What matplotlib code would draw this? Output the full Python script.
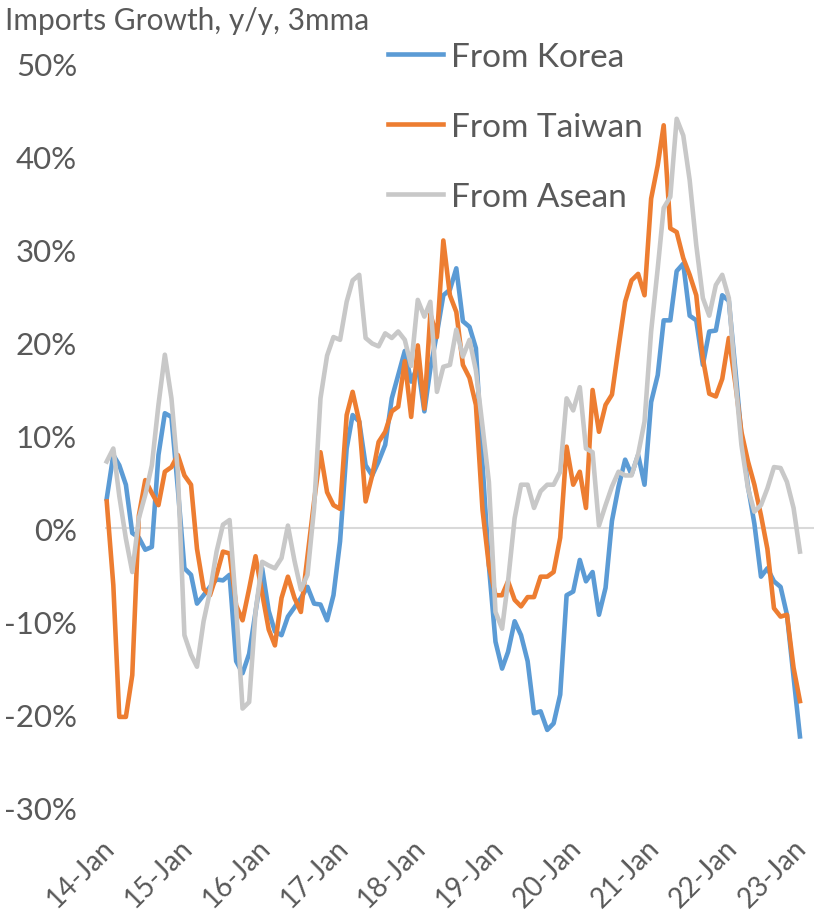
import pandas as pd
import matplotlib.pyplot as plt
from matplotlib.transforms import ScaledTranslation

# monthly y/y growth, 3mma, Jan 2014 .. Dec 2022 (%)
korea = [
    3.2, 7.9, 6.8, 4.7, -0.5, -1.0, -2.3, -2.0, 7.9, 12.4, 12.0, 4.3,
    -4.3, -5.0, -8.1, -7.2, -6.3, -5.5, -5.6, -5.0, -14.3, -15.6, -13.5, -9.0,
    -4.3, -8.9, -11.1, -11.5, -9.5, -8.5, -7.5, -6.3, -8.1, -8.2, -9.9, -7.2,
    -1.4, 8.6, 12.2, 11.5, 6.8, 5.7, 7.2, 9.0, 14.0, 16.5, 19.1, 15.8,
    17.5, 12.6, 17.2, 21.0, 25.1, 25.7, 28.0, 22.3, 21.7, 19.4, 7.0, -4.0,
    -12.2, -15.1, -13.3, -10.0, -11.5, -14.3, -19.9, -19.7, -21.7, -21.0, -17.9, -7.2,
    -6.8, -3.4, -5.7, -4.7, -9.3, -6.4, 0.8, 4.5, 7.4, 5.8, 7.9, 4.7,
    13.6, 16.5, 22.4, 22.4, 27.7, 28.5, 22.9, 22.4, 17.6, 21.2, 21.3, 25.1,
    24.5, 17.0, 10.0, 4.5, 0.5, -5.2, -4.3, -5.7, -6.3, -9.3, -16.0, -22.4,
]
taiwan = [
    2.9, -6.1, -20.3, -20.3, -15.8, 1.4, 5.2, 3.8, 2.5, 6.1, 6.6, 7.9,
    5.7, 4.7, -2.2, -6.5, -7.2, -5.0, -2.5, -2.7, -8.3, -9.9, -6.5, -3.0,
    -7.0, -10.9, -12.6, -7.5, -5.2, -7.5, -9.0, -3.0, 2.9, 8.2, 3.9, 2.5,
    2.1, 12.2, 14.7, 11.5, 2.9, 5.7, 9.3, 10.4, 12.6, 13.1, 18.0, 12.0,
    19.7, 12.9, 23.1, 20.6, 31.0, 25.1, 23.3, 17.6, 16.2, 13.3, 2.0, -4.0,
    -7.2, -7.2, -5.7, -7.7, -8.4, -7.4, -7.4, -5.2, -5.2, -4.7, -1.0, 8.8,
    4.7, 6.1, 2.2, 14.9, 10.4, 13.3, 14.4, 19.5, 24.4, 26.7, 27.4, 25.1,
    35.5, 39.1, 43.4, 32.3, 31.9, 29.1, 27.3, 25.1, 18.3, 14.5, 14.2, 16.1,
    20.5, 15.5, 10.4, 7.2, 4.7, 1.4, -2.2, -8.6, -9.5, -9.3, -15.0, -18.6,
]
asean = [
    7.2, 8.6, 3.5, -1.1, -4.7, 1.1, 3.6, 6.8, 13.3, 18.7, 14.0, 6.1,
    -11.5, -13.6, -14.9, -10.0, -6.8, -2.5, 0.4, 0.9, -8.6, -19.4, -18.7, -9.0,
    -3.6, -4.0, -4.3, -3.2, 0.3, -3.5, -6.6, -5.0, 2.2, 14.0, 18.6, 20.6,
    20.3, 24.4, 26.7, 27.3, 20.5, 19.9, 19.6, 21.0, 20.5, 21.2, 20.3, 17.5,
    24.6, 22.8, 24.4, 14.7, 17.4, 17.6, 21.4, 18.5, 20.3, 17.0, 11.0, 5.0,
    -9.0, -10.8, -5.7, 1.1, 4.7, 4.7, 2.2, 4.0, 4.7, 4.7, 6.1, 14.0,
    12.7, 15.2, 8.6, 8.2, 0.3, 2.5, 4.5, 6.1, 5.7, 5.7, 8.0, 11.5,
    21.2, 28.0, 34.5, 35.7, 44.1, 42.3, 37.5, 30.5, 24.8, 22.9, 26.2, 27.3,
    24.8, 16.0, 9.0, 4.3, 1.8, 2.5, 4.3, 6.6, 6.5, 5.0, 2.2, -2.5,
]
series_names = ['From Korea', 'From Taiwan', 'From Asean']
y_ticks = [-30, -20, -10, 0, 10, 20, 30, 40, 50]

dates = pd.date_range('2014-01-01', periods=len(korea), freq='MS')
tick_dates = pd.date_range('2014-01-01', '2023-01-01', freq='YS')

plt.rcParams['font.family'] = ['Lato', 'DejaVu Sans']
txt_color = '#595959'

fig = plt.figure(figsize=(8.15, 9.12), dpi=100)
W, H = 815, 912
x0, x1, y_top, y_bot = 104.8, 814, 65, 808
ax = fig.add_axes([x0 / W, 1 - y_bot / H, (x1 - x0) / W, (y_bot - y_top) / H])

ax.axhline(0, color='#D9D9D9', lw=1.5, zorder=1)
colors = ['#5B9BD5', '#ED7D31', '#C8C8C8']
for vals, name, col in zip([korea, taiwan, asean], series_names, colors):
    ax.plot(dates, vals, color=col, lw=3.3, label=name, zorder=2, clip_on=False)

ax.set_xlim(pd.Timestamp('2013-12-23'), pd.Timestamp('2023-02-05'))
ax.set_ylim(-30, 50)
ax.set_yticks(y_ticks, labels=[f'{v}%' for v in y_ticks])
ax.set_xticks(tick_dates, labels=[d.strftime('%y-%b') for d in tick_dates])
for s in ax.spines.values():
    s.set_visible(False)
ax.tick_params(axis='both', length=0, labelcolor=txt_color)
ax.tick_params(axis='y', pad=20, labelsize=22.5)
ax.tick_params(axis='x', pad=20, labelsize=20)
# excel puts the rotated labels a little right of / below the tick
xlabels = ax.get_xticklabels()
for i, lbl in enumerate(xlabels):
    dx = 4 if i < len(xlabels) - 1 else -4   # last one must stay inside
    lbl.set_rotation(45)
    lbl.set_ha('right')
    lbl.set_va('center')
    lbl.set_rotation_mode('anchor')
    lbl.set_transform(lbl.get_transform()
                      + ScaledTranslation(dx / 100, -8 / 100, fig.dpi_scale_trans))

fig.text(5 / W, 1 - 21 / H, 'Imports Growth, y/y, 3mma', fontsize=21.5,
         color=txt_color, ha='left', va='center')

fig.legend(loc='upper left', bbox_to_anchor=(388 / W, 1 - 43 / H),
           frameon=False, fontsize=24, labelcolor=txt_color,
           handlelength=1.65, handletextpad=0.25, labelspacing=1.2,
           borderpad=0, borderaxespad=0)

fig.savefig('out.png', dpi=100)
